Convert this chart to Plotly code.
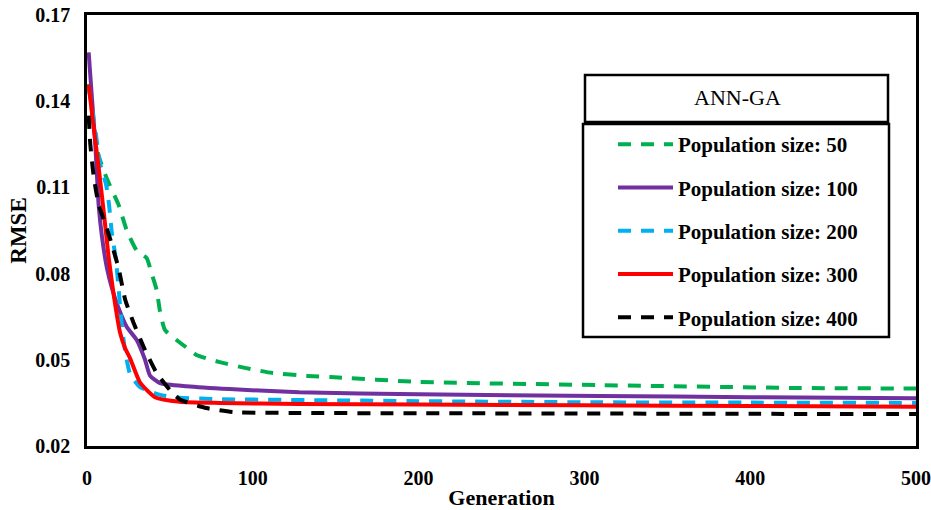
import plotly.graph_objects as go

# ---- data ----
gen_50 = [1, 4, 7, 12, 19, 24, 30, 36, 39, 42, 44, 47, 54, 62, 66, 80, 96, 112, 133, 147, 200, 309, 428, 500]
rmse_50 = [0.146, 0.132, 0.121, 0.113, 0.104, 0.095, 0.088, 0.0854, 0.080, 0.0743, 0.067, 0.0604, 0.0569,
           0.0534, 0.0517, 0.0492, 0.0471, 0.0454, 0.0444, 0.0440, 0.0423, 0.0412, 0.0402, 0.0400]

gen_100 = [1, 3, 5, 7, 9, 12, 15, 19, 24, 30, 35, 38, 44, 60, 86, 128, 200, 309, 400, 500]
rmse_100 = [0.157, 0.141, 0.125, 0.104, 0.093, 0.082, 0.075, 0.068, 0.0614, 0.0569, 0.050, 0.0445, 0.0419,
            0.0408, 0.0398, 0.0387, 0.0380, 0.0374, 0.0370, 0.0366]

gen_200 = [1, 5, 8, 11.5, 13.3, 15, 17.5, 19, 21, 23, 26, 32, 44, 56, 80, 147, 200, 309, 400, 500]
rmse_200 = [0.145, 0.130, 0.118, 0.111, 0.104, 0.094, 0.0847, 0.075, 0.062, 0.053, 0.045, 0.0405, 0.0378,
            0.0368, 0.0363, 0.0359, 0.0356, 0.0352, 0.0351, 0.0350]

gen_300 = [1, 4, 7, 10, 13, 16, 20, 23, 26, 32, 41, 56, 80, 128, 200, 300, 400, 500]
rmse_300 = [0.1457, 0.131, 0.117, 0.102, 0.086, 0.073, 0.0593, 0.054, 0.0505, 0.0421, 0.0370, 0.0354,
            0.0350, 0.0346, 0.0344, 0.0342, 0.0339, 0.0337]

gen_400 = [1, 2, 4, 7, 10, 14, 19, 23, 28, 35, 42, 50, 56, 72, 88, 128, 200, 300, 400, 500]
rmse_400 = [0.135, 0.125, 0.114, 0.104, 0.099, 0.092, 0.082, 0.071, 0.063, 0.0534, 0.0454, 0.0395, 0.0362,
            0.0332, 0.0318, 0.0315, 0.0314, 0.0313, 0.0312, 0.0311]

series_names = ["Population size: 50", "Population size: 100", "Population size: 200",
                "Population size: 300", "Population size: 400"]
x_ticks = [0, 100, 200, 300, 400, 500]
y_ticks = [0.02, 0.05, 0.08, 0.11, 0.14, 0.17]
legend_title = "ANN-GA"

# ---- styles ----
colors = ["#00B050", "#7030A0", "#00B0F0", "#FF0000", "#000000"]
dashes = ["13px,10px", "solid", "13px,10px", "solid", "13px,10px"]
xs = [gen_50, gen_100, gen_200, gen_300, gen_400]
ys = [rmse_50, rmse_100, rmse_200, rmse_300, rmse_400]

FONT = "Liberation Serif"

fig = go.Figure()
for i in range(5):
    fig.add_trace(go.Scatter(
        x=xs[i], y=ys[i], mode="lines", name=series_names[i],
        legendgroup=f"g{i}",
        line=dict(color=colors[i], width=4, dash=dashes[i], shape="spline", smoothing=0.5),
    ))

W, H = 931, 510
PL, PR, PT, PB = 87, 916, 15, 446          # plot area in page pixels
L, R, T, B = PL, W - PR, PT, H - PB
pw, ph = PR - PL, PB - PT

def px2paper(x, y):
    return (x - PL) / pw, (PB - y) / ph

tx0, ty1 = px2paper(585, 75)
tx1, ty0 = px2paper(888, 122)
lx0, ly1 = px2paper(583, 124)
lx1, ly0 = px2paper(889, 337)
tcx, tcy = px2paper(737, 98)
legx, legy = px2paper(613, 124)

fig.update_layout(
    width=W, height=H,
    margin=dict(l=L, r=R, t=T, b=B, autoexpand=False),
    paper_bgcolor="white", plot_bgcolor="white",
    font=dict(family=FONT, color="black"),
    showlegend=True,
    legend=dict(
        x=legx, y=legy, xanchor="left", yanchor="top",
        bgcolor="rgba(0,0,0,0)", borderwidth=0,
        font=dict(family=FONT, size=21, color="black", weight="bold"),
        itemwidth=55, traceorder="grouped", tracegroupgap=13,
    ),
    shapes=[
        dict(type="rect", xref="paper", yref="paper", x0=tx0, x1=tx1, y0=ty0, y1=ty1,
             line=dict(color="black", width=2.5), fillcolor="white", layer="below"),
        dict(type="rect", xref="paper", yref="paper", x0=lx0, x1=lx1, y0=ly0, y1=ly1,
             line=dict(color="black", width=2.5), fillcolor="white", layer="below"),
    ],
    annotations=[
        dict(text=legend_title, xref="paper", yref="paper", x=tcx, y=tcy,
             showarrow=False, font=dict(family=FONT, size=22, color="black"),
             xanchor="center", yanchor="middle"),
    ],
)

fig.update_xaxes(
    range=[0, 500], tickvals=x_ticks, ticktext=[str(v) for v in x_ticks],
    showgrid=False, zeroline=False, automargin=False,
    showline=True, linecolor="black", linewidth=2.5, mirror=True,
    ticks="", ticklabelstandoff=12, ticklabeloverflow="allow",
    tickfont=dict(family=FONT, size=20, color="black", weight="bold"),
    title=dict(text="Generation", standoff=2,
               font=dict(family=FONT, size=22, color="black", weight="bold")),
)
fig.update_yaxes(
    range=[0.02, 0.17], tickvals=y_ticks, ticktext=[f"{v:.2f}" for v in y_ticks],
    showgrid=False, zeroline=False, automargin=False,
    showline=True, linecolor="black", linewidth=2.5, mirror=True,
    ticks="", ticklabelstandoff=10, ticklabeloverflow="allow",
    tickfont=dict(family=FONT, size=20, color="black", weight="bold"),
    title=dict(text="RMSE", standoff=3,
               font=dict(family=FONT, size=23, color="black", weight="bold")),
)

fig.write_html("out.html", config={"displayModeBar": False},
               post_script="document.body.style.margin='0';")
